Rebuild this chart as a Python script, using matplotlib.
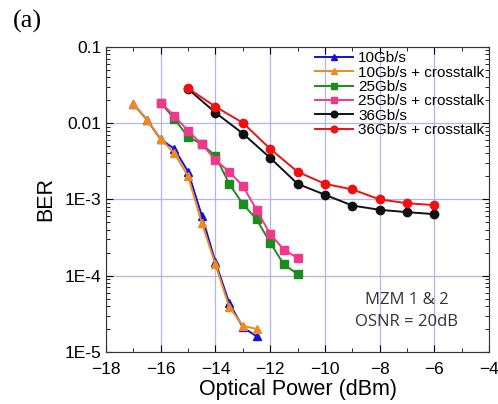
import numpy as np
import matplotlib.pyplot as plt
from matplotlib.ticker import LogLocator, FixedLocator, NullFormatter

# power (dBm) and BER
p_10 = [-17, -16.5, -16, -15.5, -15, -14.5, -14, -13.5, -13, -12.5]
ber_10 = [0.0178, 0.011, 0.0061, 0.0046, 0.0023, 6.1e-4, 1.5e-4, 4.4e-5, 2.1e-5, 1.6e-5]
ber_10_xt = [0.0180, 0.011, 0.0062, 0.0040, 0.0020, 4.9e-4, 1.4e-4, 3.9e-5, 2.2e-5, 2.0e-5]

p_25 = [-16, -15.5, -15, -14.5, -14, -13.5, -13, -12.5, -12, -11.5, -11]
ber_25 = [0.0185, 0.0113, 0.0066, 0.0053, 0.0037, 0.0016, 8.7e-4, 5.5e-4, 2.7e-4, 1.4e-4, 1.05e-4]
ber_25_xt = [0.0185, 0.0124, 0.0079, 0.0053, 0.0033, 0.0023, 0.0015, 7.3e-4, 3.5e-4, 2.2e-4, 1.7e-4]

p_36 = [-15, -14, -13, -12, -11, -10, -9, -8, -7, -6]
ber_36 = [0.028, 0.0137, 0.0073, 0.0035, 0.0016, 0.00115, 8.3e-4, 7.3e-4, 6.8e-4, 6.4e-4]
ber_36_xt = [0.0286, 0.0164, 0.0101, 0.0046, 0.0023, 0.0016, 0.00135, 0.0010, 8.9e-4, 8.4e-4]

series = [
    (p_10, ber_10, '10Gb/s', '#1010e0', '^'),
    (p_10, ber_10_xt, '10Gb/s + crosstalk', '#f08a1c', '^'),
    (p_25, ber_25, '25Gb/s', '#1c8c1c', 's'),
    (p_25, ber_25_xt, '25Gb/s + crosstalk', '#f0388c', 's'),
    (p_36, ber_36, '36Gb/s', '#111111', 'o'),
    (p_36, ber_36_xt, '36Gb/s + crosstalk', '#f01010', 'o'),
]

plt.rcParams['font.family'] = ['Liberation Sans', 'DejaVu Sans']

fig = plt.figure(figsize=(4.98, 4.04), dpi=100)
ax = fig.add_axes([0.213, 0.129, 0.769, 0.755])

for x, y, label, color, marker in series:
    ax.plot(x, y, color=color, marker=marker, markersize=6, linewidth=1.4, label=label)

ax.set_yscale('log')
ax.set_xlim(-18, -4)
ax.set_ylim(1e-5, 0.1)

ax.xaxis.set_major_locator(FixedLocator(np.arange(-18, -3, 2)))
ax.xaxis.set_minor_locator(FixedLocator(np.arange(-17, -4, 2)))
ax.yaxis.set_minor_locator(LogLocator(base=10, subs=np.arange(2, 10), numticks=10))
ax.yaxis.set_minor_formatter(NullFormatter())
ax.set_yticks([1e-5, 1e-4, 1e-3, 0.01, 0.1])
ax.set_yticklabels(['1E-5', '1E-4', '1E-3', '0.01', '0.1'])

ax.grid(True, which='major', color='#b4b4e6', linewidth=0.9)
ax.tick_params(which='both', direction='in', top=True, right=True, labelsize=12.5)
ax.tick_params(which='major', length=5)
ax.tick_params(which='minor', length=3)
ax.tick_params(axis='x', pad=7)
for s in ax.spines.values():
    s.set_color('#333333')

ax.set_xlabel('Optical Power (dBm)', fontsize=15.5, labelpad=2)
ax.set_ylabel('BER', fontsize=15.5, labelpad=6)

ax.legend(loc='upper right', frameon=False, fontsize=11, handlelength=2.5,
          handletextpad=0.35, labelspacing=0.02, borderaxespad=0.0, markerscale=0.8,
          borderpad=0.3)

ax.text(0.785, 0.134, 'MZM 1 & 2\nOSNR = 20dB', transform=ax.transAxes, ha='center',
        va='center', fontsize=12, color='#333333', family=['Open Sans', 'DejaVu Sans'],
        linespacing=1.55)

fig.text(0.026, 0.975, '(a)', fontsize=19, family=['Liberation Serif', 'DejaVu Serif'],
         va='top')

fig.savefig('out.png', dpi=100)
